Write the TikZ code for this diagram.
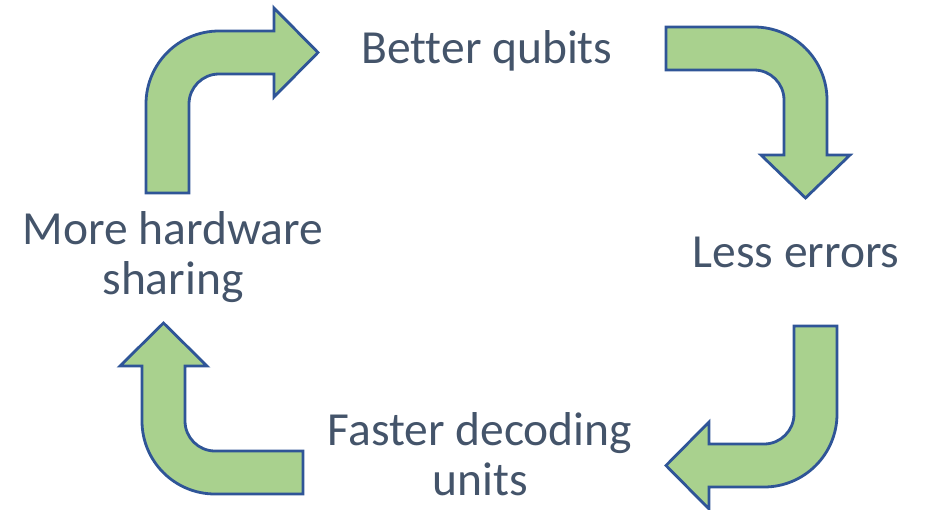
\documentclass[tikz,border=0pt]{standalone}
\usepackage{fontspec}
\setmainfont[Ligatures={NoCommon}]{Carlito}
\definecolor{arrowfill}{HTML}{A9D18E}
\definecolor{arrowline}{HTML}{2F5597}
\definecolor{labeltext}{HTML}{44546A}
\begin{document}
\begin{tikzpicture}[x=1pt,y=-1pt,
  bentarrow/.style={fill=arrowfill,draw=arrowline,line width=2.8pt,line join=miter},
  label/.style={text=labeltext,font=\fontsize{47.5}{50}\selectfont,align=center,anchor=base,inner sep=0pt}]
\useasboundingbox (0,0) rectangle (925,509);

% labels of the cycle (base anchor sits on the last line)
\node[label] (qubits) at (487,63) {Better qubits};
\node[label] (errors) at (796,267) {Less errors};
\node[label] (decoding) at (480,495) {Faster decoding\\units};
\node[label] (sharing) at (173,294) {More hardware\\sharing};

% up, then right
\draw[bentarrow] (146,193) -- (146,104) arc[start angle=180,end angle=270,radius=73]
  -- (274,31) -- (274,8) -- (318,52.5) -- (274,97) -- (274,74) -- (219,74)
  arc[start angle=270,end angle=180,radius=30] -- (189,193) -- cycle;

% right, then down
\draw[bentarrow] (666,27) -- (754,27) arc[start angle=270,end angle=360,radius=73]
  -- (827,155) -- (850,155) -- (805.5,198) -- (761,155) -- (784,155) -- (784,100)
  arc[start angle=0,end angle=-90,radius=30] -- (666,70) -- cycle;

% down, then left
\draw[bentarrow] (794,326) -- (837,326) -- (837,414) arc[start angle=0,end angle=90,radius=73]
  -- (709,487) -- (709,509) -- (666,465.5) -- (709,422) -- (709,444) -- (764,444)
  arc[start angle=90,end angle=0,radius=30] -- cycle;

% left, then up
\draw[bentarrow] (303,494) -- (215,494) arc[start angle=90,end angle=180,radius=73]
  -- (142,366) -- (120,366) -- (163.5,323) -- (207,366) -- (185,366) -- (185,421)
  arc[start angle=180,end angle=90,radius=30] -- (303,451) -- cycle;
\end{tikzpicture}
\end{document}
